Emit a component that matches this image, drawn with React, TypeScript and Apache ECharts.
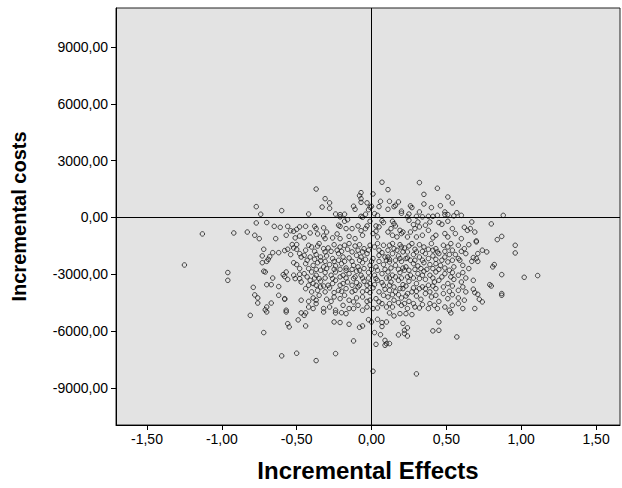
import React, { useEffect, useRef } from "react";
import * as echarts from "echarts";

// Tick values
const xTicks = [-1.5, -1.0, -0.5, 0, 0.5, 1.0, 1.5];
const yTicks = [-9000, -6000, -3000, 0, 3000, 6000, 9000];

// Simulated pairs [incremental effect, incremental cost], grouped by region of the plane
const upperLeft: [number, number][] = [
  [-0.77, 570], [-0.74, 170], [-0.60, 360],
  [-0.37, 1500], [-0.31, 990], [-0.28, 770], [-0.33, 550], [-0.28, 480], [-0.42, 180], [-0.24, 180],
  [-0.21, 150], [-0.21, 30], [-0.18, 170], [-0.12, 590], [-0.11, 430], [-0.08, 1150], [-0.07, 1310],
  [-0.07, 990], [-0.07, 800], [-0.03, 770], [-0.01, 540], [0.00, 590], [-0.02, 410], [-0.04, 170],
  [-0.07, 60], [-0.06, 10],
];
const upperRight: [number, number][] = [
  [0.01, 1240], [0.07, 1860], [0.06, 850], [0.05, 570], [0.02, 200], [0.04, 110],
  [0.11, 1470], [0.32, 1840], [0.44, 1540], [0.35, 1220], [0.51, 1080], [0.54, 770], [0.46, 620],
  [0.40, 520], [0.35, 710], [0.26, 610], [0.27, 520], [0.18, 820], [0.16, 640], [0.15, 570], [0.12, 850],
  [0.11, 430], [0.20, 330], [0.20, 220], [0.32, 290], [0.25, 180], [0.24, 30], [0.30, 60], [0.34, 30],
  [0.38, 60], [0.41, 60], [0.44, 110], [0.49, 290], [0.49, 150], [0.51, 150], [0.57, 250], [0.55, 80],
  [0.60, 110], [0.88, 110],
];
const nearZeroLeft: [number, number][] = [
  [-0.77, -290], [-0.70, -270], [-0.65, -470], [-0.61, -520], [-0.56, -470], [-0.54, -700], [-0.52, -730],
  [-0.50, -630], [-0.48, -500], [-0.92, -820], [-0.83, -770], [-0.78, -940], [-0.75, -1120], [-0.64, -1120],
  [-0.57, -940], [-0.51, -1080], [-0.48, -980], [-1.13, -870],
  [-0.16, -120], [-0.18, -200], [-0.01, -200], [-0.44, -470], [-0.38, -470], [-0.37, -590], [-0.32, -550],
  [-0.41, -820], [-0.36, -870], [-0.32, -980], [-0.30, -770], [-0.22, -410], [-0.21, -470], [-0.13, -590],
  [-0.09, -450], [-0.07, -700], [-0.04, -590], [-0.03, -450], [-0.23, -870], [-0.21, -1120], [-0.15, -1000],
  [-0.11, -1120], [-0.06, -940], [-0.26, -1080], [-0.31, -1120], [-0.45, -1070], [-0.17, -590],
];
const nearZeroRight: [number, number][] = [
  [0.07, -170], [0.08, -270], [0.03, -450], [0.05, -500], [0.01, -850], [0.04, -1030], [0.03, -730],
  [0.45, -270], [0.47, -360], [0.51, -200], [0.62, -520], [0.64, -680],
  [0.14, -200], [0.15, -330], [0.16, -450], [0.13, -590], [0.11, -770], [0.19, -680], [0.20, -850],
  [0.14, -940], [0.17, -1030], [0.21, -770], [0.25, -150], [0.28, -380], [0.31, -240], [0.32, -500],
  [0.29, -590], [0.26, -770], [0.24, -1030], [0.30, -1030], [0.34, -940], [0.36, -410], [0.39, -240],
  [0.38, -680], [0.41, -1080], [0.43, -940], [0.49, -850], [0.51, -1030], [0.54, -590], [0.56, -850],
  [0.60, -1120],
  [0.67, -240], [0.66, -590], [0.69, -770], [0.80, -340], [0.87, -1000], [0.84, -1170], [0.70, -1240],
];
const farLeft: [number, number][] = [
  [-1.25, -2510],
  [-0.96, -2910], [-0.96, -3320], [-0.72, -1680], [-0.73, -2030], [-0.68, -2070], [-0.69, -2210],
  [-0.70, -2320], [-0.73, -2390], [-0.66, -1860], [-0.62, -1860], [-0.58, -1750], [-0.56, -1680],
  [-0.54, -1960], [-0.53, -1430], [-0.52, -1610], [-0.50, -1680], [-0.48, -1910], [-0.47, -2090],
  [-0.52, -2390], [-0.50, -2490], [-0.48, -2700], [-0.72, -2840], [-0.71, -2880], [-0.66, -3200],
  [-0.59, -3020], [-0.58, -3120], [-0.57, -2880], [-0.56, -3270], [-0.52, -3050], [-0.51, -3230],
  [-0.48, -3000], [-0.48, -3230], [-0.47, -3410], [-0.79, -3690], [-0.70, -3550], [-0.67, -3550],
  [-0.62, -3650], [-0.78, -4090], [-0.76, -4250], [-0.76, -4520], [-0.62, -4110], [-0.58, -4320],
  [-0.58, -4290], [-0.67, -4520], [-0.70, -4730], [-0.71, -4880], [-0.57, -4900], [-0.47, -4370],
  [-0.50, -1430],
];
const coreLeft: [number, number][] = [
  [-0.42, -1470], [-0.40, -1560], [-0.36, -1510], [-0.32, -1650], [-0.29, -1610], [-0.25, -1440],
  [-0.21, -1560], [-0.18, -1470], [-0.15, -1380], [-0.11, -1510], [-0.08, -1440], [-0.05, -1650],
  [-0.01, -1470], [0.02, -1560], [0.05, -1730], [0.08, -1470],
  [-0.45, -2000], [-0.41, -2090], [-0.37, -1960], [-0.34, -2090], [-0.30, -2030], [-0.26, -2170],
  [-0.22, -1910], [-0.19, -2090], [-0.15, -2140], [-0.10, -2000], [-0.07, -2090], [-0.03, -1910],
  [0.01, -2170], [0.05, -2000], [0.09, -2090],
  [-0.44, -2440], [-0.39, -2530], [-0.36, -2390], [-0.32, -2610], [-0.28, -2490], [-0.24, -2560],
  [-0.20, -2440], [-0.17, -2670], [-0.12, -2530], [-0.09, -2610], [-0.06, -2390], [-0.01, -2530],
  [0.03, -2610], [0.08, -2490],
  [-0.45, -2970], [-0.40, -2880], [-0.37, -3050], [-0.31, -2910], [-0.27, -3050], [-0.24, -2880],
  [-0.19, -3050], [-0.15, -2970], [-0.10, -2840], [-0.07, -3050], [-0.02, -2910], [0.02, -3050],
  [0.07, -2970],
  [-0.41, -3320], [-0.39, -3490], [-0.34, -3370], [-0.29, -3580], [-0.24, -3320], [-0.19, -3490],
  [-0.16, -3410], [-0.12, -3230], [-0.08, -3580], [-0.05, -3370], [-0.01, -3490], [0.04, -3320],
  [0.08, -3580],
  [-0.44, -3760], [-0.36, -3850], [-0.31, -3930], [-0.28, -3720], [-0.22, -3850], [-0.17, -3760],
  [-0.13, -3930], [-0.09, -3670], [-0.03, -3850], [0.01, -3720], [0.05, -3930],
  [-0.39, -4250], [-0.35, -4110], [-0.30, -4320], [-0.25, -4200], [-0.18, -4110], [-0.15, -4370],
  [-0.10, -4250], [-0.06, -4200], [-0.01, -4370], [0.03, -4290], [0.08, -4110],
  [-0.42, -4730], [-0.37, -4550], [-0.32, -4810], [-0.19, -4640], [-0.15, -4810], [-0.09, -4640],
  [-0.03, -4730], [0.01, -4810], [0.07, -4550], [0.10, -4730],
  [-0.44, -1730], [-0.38, -1790], [-0.35, -1380], [-0.31, -1820], [-0.27, -1790], [-0.23, -1730],
  [-0.20, -1790], [-0.16, -1680], [-0.13, -1820], [-0.09, -1730], [-0.06, -1820], [-0.02, -1730],
  [0.04, -1380], [0.07, -1860],
  [-0.43, -2260], [-0.38, -2210], [-0.34, -2280], [-0.31, -2320], [-0.25, -2320], [-0.22, -2260],
  [-0.18, -2320], [-0.13, -2320], [-0.08, -2260], [-0.04, -2210], [0.00, -2320], [0.05, -2320],
  [0.10, -2260],
  [-0.42, -2700], [-0.37, -2740], [-0.34, -2790], [-0.30, -2700], [-0.25, -2740], [-0.21, -2740],
  [-0.17, -2790], [-0.13, -2740], [-0.08, -2790], [-0.05, -2700], [0.00, -2740], [0.04, -2790],
  [0.09, -2740],
  [-0.43, -3140], [-0.38, -3200], [-0.35, -3230], [-0.31, -3200], [-0.26, -3230], [-0.21, -3140],
  [-0.17, -3200], [-0.11, -3140], [-0.06, -3200], [-0.02, -3200], [0.03, -3230], [0.10, -3200],
  [-0.42, -3580], [-0.37, -3580], [-0.32, -3620], [-0.26, -3490], [-0.21, -3580], [-0.13, -3580],
  [-0.10, -3440], [-0.03, -3580], [0.02, -3550], [0.07, -3440],
  [-0.40, -3930], [-0.34, -3670], [-0.25, -3970], [-0.20, -3900], [-0.11, -3850], [-0.06, -3930],
  [-0.01, -3970], [0.09, -3790],
  [-0.42, -4430], [-0.37, -4370], [-0.27, -4430], [-0.21, -4290], [-0.12, -4460], [-0.03, -4430],
  [0.05, -4460],
  [-0.39, -4810], [-0.28, -4730], [-0.24, -4900], [-0.12, -4810], [-0.06, -4900], [0.04, -4780],
];
const coreRight: [number, number][] = [
  [0.12, -1470], [0.15, -1650], [0.19, -1440], [0.22, -1610], [0.25, -1510], [0.29, -1680], [0.32, -1440],
  [0.35, -1560], [0.40, -1380], [0.43, -1650], [0.48, -1470], [0.51, -1560], [0.54, -1730], [0.58, -1470],
  [0.62, -1650],
  [0.11, -2090], [0.14, -1910], [0.18, -2030], [0.21, -1820], [0.24, -2140], [0.28, -1960], [0.32, -2090],
  [0.36, -1910], [0.41, -2030], [0.44, -1820], [0.49, -2090], [0.52, -1960], [0.58, -2170], [0.63, -1910],
  [0.12, -2350], [0.16, -2530], [0.20, -2320], [0.23, -2610], [0.28, -2440], [0.31, -2560], [0.35, -2390],
  [0.39, -2490], [0.43, -2440], [0.46, -2530], [0.51, -2350], [0.55, -2610], [0.61, -2530],
  [0.11, -2880], [0.14, -3050], [0.19, -2910], [0.22, -2790], [0.26, -3050], [0.31, -2970], [0.35, -2840],
  [0.39, -3050], [0.43, -2880], [0.49, -2970], [0.52, -2790], [0.58, -3050], [0.61, -2910],
  [0.13, -3410], [0.18, -3320], [0.21, -3550], [0.25, -3370], [0.30, -3490], [0.32, -3230], [0.38, -3580],
  [0.42, -3410], [0.45, -3320], [0.51, -3490], [0.55, -3270], [0.60, -3410],
  [0.12, -3850], [0.16, -3930], [0.21, -3760], [0.24, -4020], [0.30, -3900], [0.34, -3670], [0.39, -3930],
  [0.43, -3760], [0.48, -4020], [0.52, -3900], [0.58, -3850], [0.63, -3930],
  [0.11, -4200], [0.15, -4370], [0.20, -4250], [0.25, -4430], [0.30, -4150], [0.33, -4320], [0.40, -4200],
  [0.45, -4430], [0.51, -4290], [0.58, -4250],
  [0.14, -4730], [0.20, -4640], [0.24, -4810], [0.29, -4730], [0.34, -4600], [0.39, -4550], [0.44, -4810],
  [0.49, -4730], [0.54, -4640], [0.61, -4810],
  [0.11, -1730], [0.14, -1380], [0.17, -1730], [0.20, -1560], [0.24, -1820], [0.27, -1380], [0.30, -1820],
  [0.34, -1790], [0.38, -1680], [0.41, -1730], [0.45, -1910], [0.49, -1790], [0.53, -1380], [0.56, -1960],
  [0.60, -1790], [0.65, -1440],
  [0.12, -2210], [0.16, -2260], [0.19, -2170], [0.23, -2170], [0.26, -2260], [0.29, -2260], [0.34, -2260],
  [0.38, -2170], [0.43, -2210], [0.47, -2260], [0.54, -2260], [0.59, -2260],
  [0.13, -2670], [0.18, -2740], [0.21, -2670], [0.25, -2790], [0.29, -2740], [0.33, -2700], [0.37, -2740],
  [0.41, -2700], [0.45, -2740], [0.49, -2670], [0.54, -2910], [0.65, -2700],
  [0.12, -3200], [0.16, -3140], [0.20, -3200], [0.24, -3140], [0.28, -3200], [0.34, -3050], [0.36, -3270],
  [0.41, -3200], [0.47, -3140], [0.53, -3140], [0.63, -3200],
  [0.12, -3580], [0.15, -3670], [0.19, -3760], [0.23, -3620], [0.28, -3720], [0.32, -3760], [0.36, -3760],
  [0.41, -3620], [0.48, -3670], [0.54, -3620], [0.61, -3670],
  [0.14, -4080], [0.18, -4080], [0.23, -4150], [0.27, -3930], [0.36, -4020], [0.43, -4110], [0.54, -4080],
  [0.62, -4370],
  [0.12, -4550], [0.18, -4500], [0.22, -4550], [0.28, -4550], [0.32, -4780], [0.38, -4810], [0.42, -4640],
  [0.52, -4900], [0.58, -4550],
];
const farRight: [number, number][] = [
  [0.70, -1290], [0.74, -1730], [0.71, -1910], [0.77, -1820], [0.68, -2120], [0.70, -2170], [0.67, -2320],
  [0.71, -2320], [0.81, -2610], [0.82, -2490], [0.96, -1470], [0.96, -1875], [0.87, -3020], [1.02, -3160],
  [1.11, -3070], [0.68, -3320], [0.79, -3550], [0.80, -3620], [0.68, -3790], [0.69, -3970], [0.71, -4060],
  [0.87, -4020], [0.87, -4110], [0.72, -4320], [0.74, -4460], [0.69, -4810],
];
const lowerTail: [number, number][] = [
  [-0.81, -5170], [-0.72, -6080], [-0.56, -5610], [-0.55, -5780], [-0.49, -5410], [-0.60, -7310],
  [-0.50, -7170], [-0.57, -4990], [-0.70, -4990], [-0.47, -5040],
  [-0.44, -5040], [-0.45, -5170], [-0.44, -5730], [-0.25, -5520], [-0.21, -5550], [-0.15, -5640],
  [-0.24, -5040], [-0.20, -5030], [-0.17, -5080], [-0.08, -5800], [-0.06, -5730], [-0.02, -5400],
  [0.00, -5520], [0.04, -5380], [0.07, -5550], [0.07, -5760], [0.02, -6080], [0.06, -6190], [0.03, -6700],
  [0.09, -6490], [0.09, -6750], [-0.12, -6520], [-0.24, -7190], [-0.37, -7560], [0.01, -8120],
  [-0.32, -4990],
  [0.12, -5040], [0.15, -5200], [0.19, -5080], [0.23, -5080], [0.27, -5130], [0.10, -5520], [0.21, -5590],
  [0.24, -5830], [0.22, -5960], [0.22, -6130], [0.18, -6200], [0.24, -6260], [0.10, -6660], [0.12, -6660],
  [0.45, -5520], [0.41, -5990], [0.45, -5960], [0.53, -5040], [0.57, -6310], [0.30, -8260],
];

const allPoints = [
  ...upperLeft, ...upperRight, ...nearZeroLeft, ...nearZeroRight, ...farLeft,
  ...coreLeft, ...coreRight, ...farRight, ...lowerTail,
];

const fmt = (v: number) => v.toFixed(2).replace(".", ",");
const FONT = "'Liberation Sans', Arial, sans-serif";

export default function App() {
  const ref = useRef<HTMLDivElement>(null);
  useEffect(() => {
    if (!ref.current) return;
    const chart = echarts.init(ref.current, undefined, { renderer: "svg" });
    chart.setOption({
      animation: false,
      backgroundColor: "#ffffff",
      grid: {
        left: 116, top: 8, right: 2, bottom: 63,
        show: true, backgroundColor: "#e3e3e3", borderColor: "#222", borderWidth: 1,
      },
      xAxis: {
        type: "value", min: -1.707, max: 1.66,
        name: "Incremental Effects", nameLocation: "middle", nameGap: 33,
        nameTextStyle: { fontFamily: FONT, fontSize: 24, fontWeight: "bold", color: "#000" },
        axisLine: { show: true, onZero: false, lineStyle: { color: "#000", width: 1 } },
        axisTick: { show: true, length: 5, customValues: xTicks, lineStyle: { color: "#000" } },
        axisLabel: { customValues: xTicks, formatter: fmt, fontFamily: FONT, fontSize: 14, color: "#000", margin: 7 },
        splitLine: { show: false },
      },
      yAxis: {
        type: "value", min: -10960, max: 11060,
        name: "Incremental costs", nameLocation: "middle", nameGap: 87, nameRotate: 90,
        nameTextStyle: { fontFamily: FONT, fontSize: 20, fontWeight: "bold", color: "#000" },
        axisLine: { show: true, onZero: false, lineStyle: { color: "#000", width: 1 } },
        axisTick: { show: true, length: 5, customValues: yTicks, lineStyle: { color: "#000" } },
        axisLabel: { customValues: yTicks, formatter: fmt, fontFamily: FONT, fontSize: 14, color: "#000", margin: 8 },
        splitLine: { show: false },
      },
      series: [
        {
          type: "scatter",
          data: allPoints,
          symbol: "circle",
          symbolSize: 4.5,
          itemStyle: { color: "rgba(0,0,0,0)", borderColor: "#1a1a1a", borderWidth: 1 },
          markLine: {
            silent: true,
            symbol: "none",
            label: { show: false },
            lineStyle: { color: "#000", width: 1, type: "solid" },
            data: [{ xAxis: 0 }, { yAxis: 0 }],
          },
        },
      ],
    });
    return () => chart.dispose();
  }, []);
  return <div ref={ref} style={{ position: "fixed", left: 0, top: 0, width: 622, height: 488 }} />;
}
